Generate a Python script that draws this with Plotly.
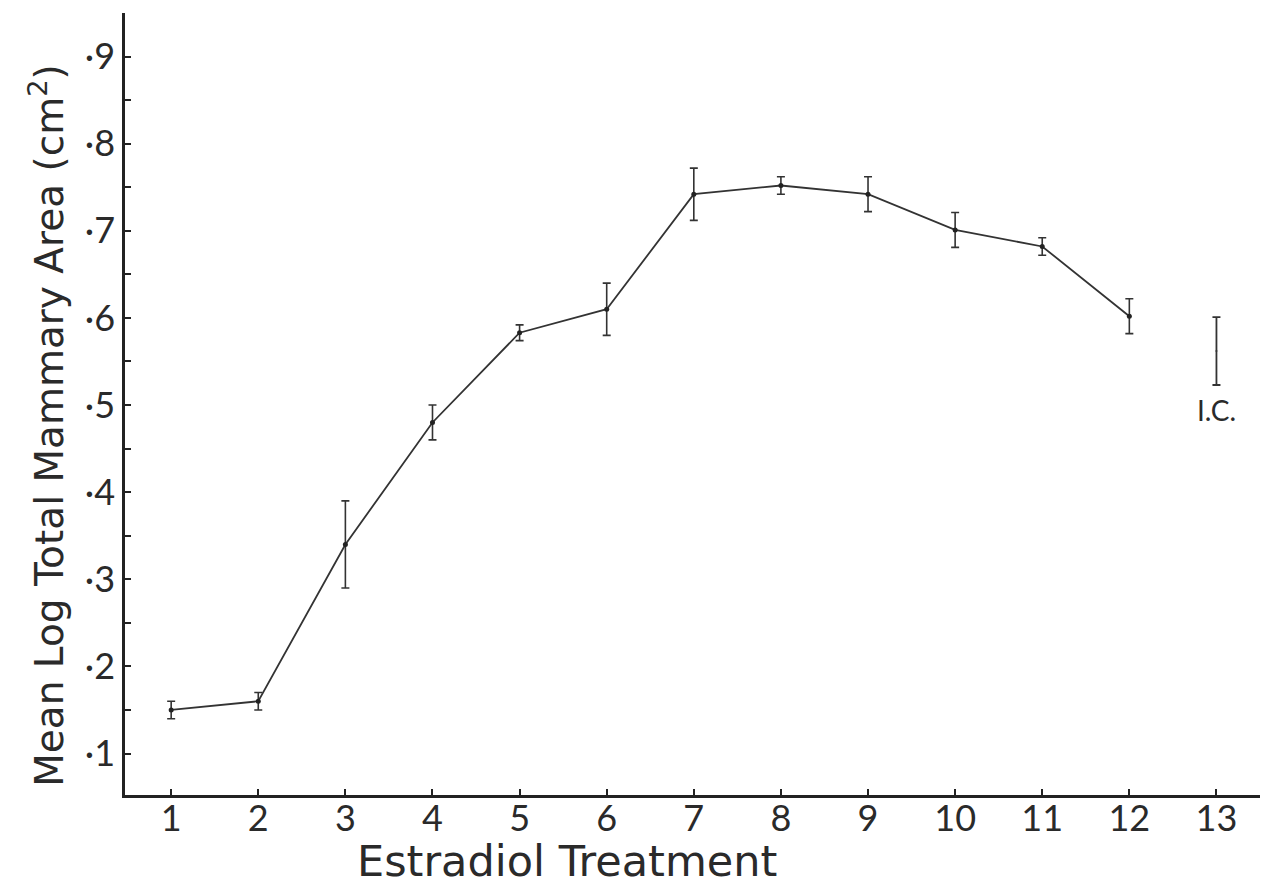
import plotly.graph_objects as go

# Data
treatment = [1, 2, 3, 4, 5, 6, 7, 8, 9, 10, 11, 12]
mean_log_area = [0.150, 0.160, 0.340, 0.480, 0.583, 0.610, 0.742, 0.752, 0.742, 0.701, 0.682, 0.602]
sem = [0.010, 0.010, 0.050, 0.020, 0.009, 0.030, 0.030, 0.010, 0.020, 0.020, 0.010, 0.020]

ic_x = [13]
ic_y = [0.562]
ic_half = [0.039]
ic_label = "I.C."

x_tick_vals = list(range(1, 14))
x_tick_text = [str(v) for v in x_tick_vals]
y_tick_vals = [0.1, 0.2, 0.3, 0.4, 0.5, 0.6, 0.7, 0.8, 0.9]
y_tick_text = ["·1", "·2", "·3", "·4", "·5", "·6", "·7", "·8", "·9"]
y_minor_vals = [0.15, 0.25, 0.35, 0.45, 0.55, 0.65, 0.75, 0.85]

x_title = "Estradiol Treatment"
y_title = "Mean Log Total Mammary Area (cm<sup>2</sup>)"

FONT = "Lato"
TITLE_FONT = "DejaVu Sans"
INK = "#2a2a2a"

fig = go.Figure()
fig.add_trace(go.Scatter(
    x=treatment, y=mean_log_area, mode="lines+markers",
    line=dict(color="#333333", width=1.8),
    marker=dict(color="#222222", size=5),
    error_y=dict(type="data", array=sem, visible=True, color="#333333", thickness=1.6, width=4),
    showlegend=False,
))
fig.add_trace(go.Scatter(
    x=ic_x, y=ic_y, mode="markers",
    marker=dict(color="#333333", size=2),
    error_y=dict(type="data", array=ic_half, visible=True, color="#333333", thickness=1.8, width=4),
    showlegend=False,
))

fig.add_annotation(x=13, y=0.494, xref="x", yref="y", text=ic_label, showarrow=False,
                   font=dict(family=FONT, size=28, color=INK), xanchor="center", yanchor="middle")

fig.add_annotation(x=0.389, y=-0.085, xref="paper", yref="paper", text=x_title, showarrow=False,
                   font=dict(family=TITLE_FONT, size=43, color=INK), xanchor="center", yanchor="middle")
fig.add_annotation(x=-0.069, y=0.473, xref="paper", yref="paper", text=y_title, showarrow=False,
                   textangle=-90,
                   font=dict(family=TITLE_FONT, size=39, color=INK), xanchor="center", yanchor="middle")

fig.update_xaxes(
    range=[0.47, 13.5], showgrid=False, zeroline=False, automargin=False,
    showline=True, linecolor="#222222", linewidth=2.5,
    tickmode="array", tickvals=x_tick_vals, ticktext=x_tick_text,
    ticks="inside", ticklen=6, tickwidth=2, tickcolor="#222222",
    ticklabelstandoff=-10,
    tickfont=dict(family=FONT, size=36, color=INK),
)
fig.update_yaxes(
    range=[0.0524, 0.95], showgrid=False, zeroline=False, automargin=False,
    showline=True, linecolor="#222222", linewidth=2.5,
    tickmode="array", tickvals=y_tick_vals, ticktext=y_tick_text,
    ticks="inside", ticklen=6, tickwidth=2, tickcolor="#222222",
    minor=dict(ticks="inside", tickvals=y_minor_vals,
               ticklen=6, tickwidth=2, tickcolor="#222222"),
    tickfont=dict(family=FONT, size=36, color=INK),
)

fig.update_layout(
    width=1263, height=887,
    margin=dict(l=125, r=3, t=13, b=92, autoexpand=False),
    paper_bgcolor="white", plot_bgcolor="white",
)

fig.write_html("out.html", config={"displayModeBar": False},
               post_script="document.body.style.margin='0';document.body.style.overflow='hidden';")
